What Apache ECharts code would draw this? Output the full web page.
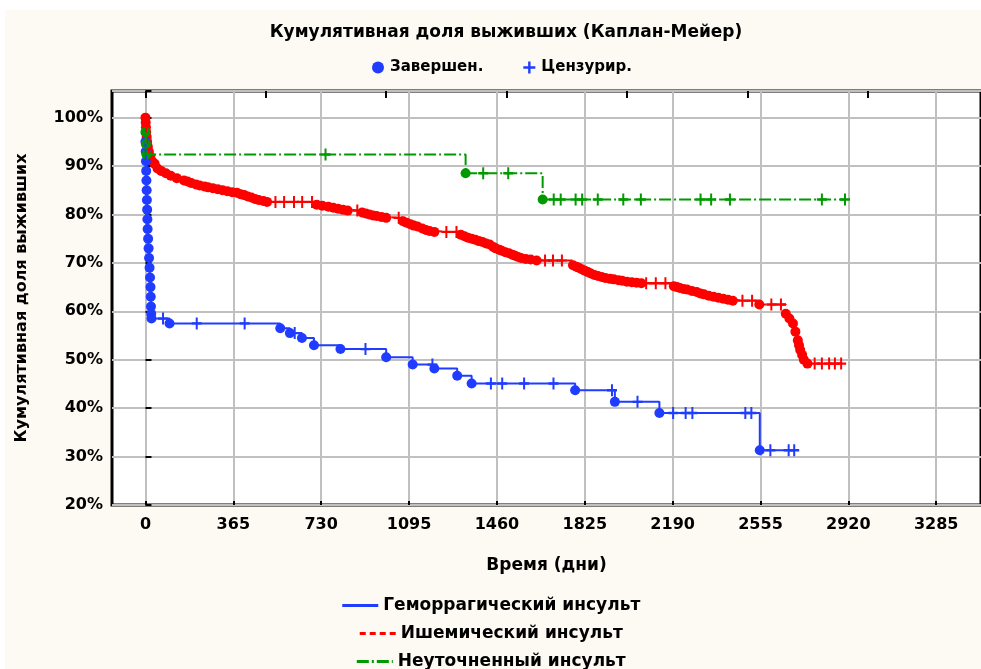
<!DOCTYPE html>
<html>
<head>
<meta charset="utf-8">
<script src="https://cdn.jsdelivr.net/npm/echarts@6/dist/echarts.min.js"></script>
<style>
html, body { margin: 0; padding: 0; background: #fff; }
#chart { width: 981px; height: 669px; }
</style>
</head>
<body>
<div id="chart"></div>
<script>
// ticks (days)
var xTicks = [0, 365, 730, 1095, 1460, 1825, 2190, 2555, 2920, 3285];
var topTicks = [0, 500, 1000, 1500, 2000, 2500, 3000];

// Геморрагический инсульт: [день, доля]
var hemEvents = [[0, 0.95], [1, 0.93], [2, 0.91], [3, 0.89], [4, 0.87], [5, 0.85], [6, 0.83], [7, 0.81],
    [8, 0.79], [9, 0.77], [11, 0.75], [13, 0.73], [15, 0.71], [17, 0.69], [19, 0.67], [21, 0.65],
    [22, 0.63], [23, 0.61], [24, 0.595], [25, 0.585], [100, 0.575], [560, 0.565], [600, 0.555],
    [650, 0.545], [700, 0.53], [810, 0.522], [1000, 0.505], [1110, 0.49], [1200, 0.482],
    [1295, 0.467], [1355, 0.451], [1785, 0.437], [1950, 0.413], [2135, 0.39], [2552, 0.313]];
var hemCensored = [[73, 0.585], [213, 0.575], [412, 0.575], [620, 0.555], [914, 0.522], [1192, 0.49],
    [1435, 0.451], [1482, 0.451], [1573, 0.451], [1695, 0.451], [1938, 0.437], [2044, 0.413],
    [2192, 0.39], [2244, 0.39], [2272, 0.39], [2492, 0.39], [2517, 0.39], [2596, 0.313],
    [2672, 0.313], [2695, 0.313]];

// Ишемический инсульт
var ischEvents = [[0, 1.0], [1, 0.99], [2, 0.98], [3, 0.97], [5, 0.96], [7, 0.95], [10, 0.94], [14, 0.93],
    [20, 0.92], [28, 0.91], [38, 0.905], [50, 0.895], [65, 0.89], [85, 0.885], [105, 0.88],
    [130, 0.875], [160, 0.87], [175, 0.868], [190, 0.865], [210, 0.862], [225, 0.86], [245, 0.858],
    [260, 0.856], [280, 0.854], [300, 0.852], [320, 0.85], [340, 0.848], [360, 0.846], [380, 0.845],
    [395, 0.842], [410, 0.84], [425, 0.837], [440, 0.835], [455, 0.832], [470, 0.83], [490, 0.828],
    [505, 0.826], [712, 0.82], [735, 0.818], [760, 0.816], [780, 0.814], [800, 0.812], [820, 0.81],
    [840, 0.808], [900, 0.804], [915, 0.802], [930, 0.80], [945, 0.798], [960, 0.797], [980, 0.795],
    [1000, 0.793], [1070, 0.786], [1085, 0.783], [1100, 0.78], [1115, 0.777], [1130, 0.775],
    [1150, 0.771], [1165, 0.768], [1180, 0.766], [1200, 0.764], [1310, 0.758], [1325, 0.755],
    [1340, 0.752], [1355, 0.75], [1370, 0.748], [1385, 0.745], [1400, 0.743], [1415, 0.74],
    [1430, 0.738], [1445, 0.733], [1455, 0.73], [1470, 0.727], [1480, 0.725], [1495, 0.722],
    [1510, 0.72], [1525, 0.717], [1535, 0.715], [1548, 0.712], [1560, 0.71], [1580, 0.708],
    [1600, 0.707], [1625, 0.705], [1776, 0.695], [1790, 0.692], [1800, 0.69], [1812, 0.687],
    [1825, 0.684], [1838, 0.681], [1850, 0.678], [1865, 0.675], [1880, 0.673], [1895, 0.671],
    [1910, 0.669], [1930, 0.667], [1945, 0.666], [1965, 0.664], [1980, 0.663], [2000, 0.661],
    [2020, 0.66], [2040, 0.659], [2060, 0.658], [2195, 0.652], [2208, 0.65], [2220, 0.648],
    [2235, 0.646], [2250, 0.645], [2270, 0.642], [2290, 0.64], [2305, 0.637], [2320, 0.635],
    [2340, 0.632], [2360, 0.63], [2380, 0.628], [2400, 0.626], [2420, 0.624], [2440, 0.622],
    [2550, 0.614], [2660, 0.595], [2675, 0.585], [2690, 0.575], [2700, 0.558], [2710, 0.54],
    [2715, 0.53], [2720, 0.52], [2728, 0.51], [2735, 0.50], [2750, 0.492]];
var ischCensored = [[540, 0.826], [576, 0.826], [617, 0.826], [651, 0.826], [692, 0.826], [880, 0.808],
    [1052, 0.793], [1250, 0.764], [1292, 0.764], [1660, 0.705], [1693, 0.705], [1730, 0.705],
    [2080, 0.658], [2120, 0.658], [2160, 0.658], [2480, 0.622], [2520, 0.622], [2600, 0.614],
    [2640, 0.614], [2780, 0.492], [2810, 0.492], [2840, 0.492], [2864, 0.492], [2890, 0.492]];

// Неуточненный инсульт
var unspEvents = [[0, 0.97], [2, 0.945], [4, 0.924], [1330, 0.885], [1650, 0.831]];
var unspCensored = [[748, 0.924], [1403, 0.885], [1507, 0.885], [1696, 0.831], [1725, 0.831],
    [1787, 0.831], [1814, 0.831], [1879, 0.831], [1985, 0.831], [2058, 0.831], [2306, 0.831],
    [2350, 0.831], [2428, 0.831], [2810, 0.831], [2906, 0.831]];

var BLUE = '#1f3cff', RED = '#ff0000', GREEN = '#009900';
var FONT = 'DejaVu Sans';
var PLUS = 'path://M4,0H6V4H10V6H6V10H4V6H0V4H4Z';

function stepData(ev, cens) {
    return ev.concat(cens).sort(function(a, b) { return a[0] - b[0]; });
}

function group(name, evName, cName, color, dash, ev, cens) {
    return [{
        name: name, type: 'line', step: 'end', symbol: 'none',
        lineStyle: { color: color, width: 2, type: dash },
        itemStyle: { color: color },
        data: stepData(ev, cens)
    }, {
        name: evName, type: 'scatter', symbol: 'circle', symbolSize: 10,
        itemStyle: { color: color, opacity: 1 },
        data: ev
    }, {
        name: cName, type: 'scatter', symbol: PLUS, symbolSize: [10, 12],
        itemStyle: { color: color, opacity: 1 },
        data: cens
    }];
}

function txt(size) {
    return { color: '#000', fontFamily: FONT, fontWeight: 'bold', fontSize: size };
}

function bottomLegend(name, top) {
    return {
        data: [name], orient: 'horizontal', left: 'center', top: top,
        padding: [5, 5, 5, 27], itemWidth: 36, itemHeight: 14,
        lineStyle: { width: 3 }, itemStyle: { opacity: 0 },
        textStyle: txt(17), selectedMode: false
    };
}

var chart = echarts.init(document.getElementById('chart'));
chart.setOption({
    backgroundColor: '#fff',
    animation: false,
    graphic: [{
        type: 'rect', z: -10, silent: true,
        shape: { x: 5, y: 10, width: 976, height: 659 },
        style: { fill: '#fcfaf2' }
    }],
    title: {
        text: 'Кумулятивная доля выживших (Каплан-Мейер)',
        left: 501, textAlign: 'center', top: 19,
        textStyle: txt(17)
    },
    legend: [{
        data: ['Завершен.', 'Цензурир.'], left: 367, top: 55,
        itemWidth: 14, itemHeight: 12, itemGap: 40, textStyle: txt(15), selectedMode: false
    },
        bottomLegend('Геморрагический инсульт', 592),
        bottomLegend('Ишемический инсульт', 620),
        bottomLegend('Неуточненный инсульт', 648)
    ],
    grid: {
        left: 112, top: 91, width: 873, height: 414, show: true,
        backgroundColor: '#fff', borderColor: '#000', borderWidth: 3
    },
    xAxis: [{
        type: 'value', min: -139, max: 3471, position: 'bottom',
        name: 'Время (дни)', nameLocation: 'middle', nameGap: 52, nameTextStyle: txt(17),
        axisLine: { show: false },
        axisTick: { inside: true, length: 4, customValues: xTicks, lineStyle: { color: '#000', width: 2 } },
        axisLabel: Object.assign({
            customValues: xTicks, margin: 12,
            formatter: function(v) { return String(v); }
        }, txt(16)),
        splitLine: { show: true, lineStyle: { color: '#c0c0c0', width: 2 } }
    }, {
        type: 'value', min: -139, max: 3471, position: 'top',
        axisLine: { show: false },
        axisTick: { inside: true, length: 7, customValues: topTicks, lineStyle: { color: '#000', width: 2 } },
        axisLabel: { show: false },
        splitLine: { show: false }
    }],
    yAxis: {
        type: 'value', min: 0.2, max: 1.055, interval: 0.1,
        name: 'Кумулятивная доля выживших', nameLocation: 'middle', nameGap: 82,
        nameTextStyle: txt(16),
        axisLine: { show: false },
        axisTick: { inside: true, length: 6, lineStyle: { color: '#000', width: 2 } },
        axisLabel: Object.assign({
            margin: 9,
            formatter: function(v) {
                var p = v * 100;
                if (Math.abs(p - Math.round(p / 10) * 10) > 0.5) return '';
                return Math.round(p) + '%';
            }
        }, txt(16)),
        splitLine: { show: true, lineStyle: { color: '#c0c0c0', width: 2 } }
    },
    series: [].concat(
        group('Ишемический инсульт', 'isch-ev', 'isch-c', RED, [6, 4], ischEvents, ischCensored),
        group('Геморрагический инсульт', 'Завершен.', 'Цензурир.', BLUE, 'solid', hemEvents, hemCensored),
        group('Неуточненный инсульт', 'unsp-ev', 'unsp-c', GREEN, [12, 3, 2, 3], unspEvents, unspCensored)
    )
});
</script>
</body>
</html>
